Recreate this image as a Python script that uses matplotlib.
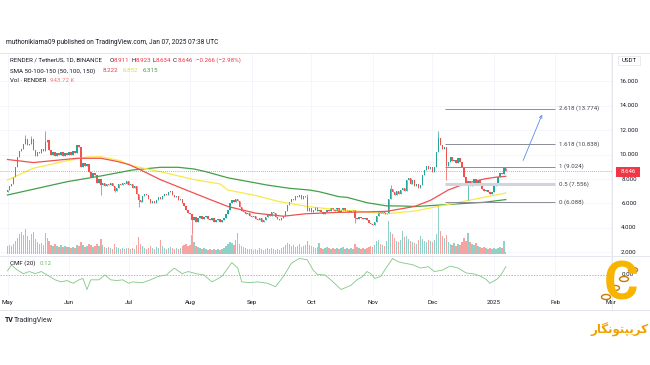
import matplotlib
matplotlib.use('Agg')
import matplotlib.pyplot as plt
from matplotlib.patches import Rectangle, Ellipse
from matplotlib.lines import Line2D
import numpy as np

plt.rcParams['font.family'] = ['Roboto', 'DejaVu Sans']

# RENDER/USDT daily closes, d = days since 1 May 2024
close_may = [7.1, 7.4, 7.6, 8.2, 9.0, 9.8, 10.3, 10.5, 10.9, 11.3,
             10.8, 10.9, 11.3, 10.4, 9.9, 10.2, 10.1, 10.5, 10.3, 11.0,
             11.2, 10.4, 10.0, 10.2, 9.9, 10.1, 10.0, 10.2, 9.9, 10.1,
             10.0]
close_jun = [10.2, 10.0, 10.3, 10.1, 10.8, 10.6, 9.0, 9.3, 9.1, 9.2,
             8.6, 8.2, 8.5, 8.3, 7.7, 8.0, 7.5, 7.7, 7.4, 7.6,
             7.5, 7.7, 7.4, 7.0, 7.3, 7.6, 7.5, 7.7, 7.6, 7.8]
close_jul = [7.5, 7.6, 7.3, 7.4, 6.8, 6.3, 6.1, 6.6, 6.8, 6.7,
             6.4, 6.0, 6.2, 6.0, 6.3, 6.5, 6.4, 6.6, 6.8, 6.7,
             6.9, 7.0, 6.7, 6.5, 6.6, 6.3, 6.4, 6.0, 5.8, 5.5,
             5.2]
close_aug = [5.1, 4.6, 4.9, 4.5, 4.8, 5.0, 4.7, 4.9, 5.0, 4.7,
             4.6, 4.8, 4.5, 4.6, 4.7, 4.5, 4.6, 4.8, 5.1, 5.5,
             6.0, 6.3, 6.1, 6.4, 6.2, 5.7, 5.4, 5.3, 5.1, 5.2,
             5.0]
close_sep = [4.9, 5.0, 4.7, 4.6, 4.8, 4.5, 4.6, 4.9, 5.1, 5.0,
             5.3, 5.2, 4.9, 4.7, 4.6, 4.8, 5.0, 5.4, 5.9, 6.1,
             6.4, 6.3, 6.6, 6.5, 6.7, 6.4, 6.6, 6.5, 5.4, 5.6]
close_oct = [5.3, 5.5, 5.7, 5.4, 5.5, 5.3, 5.1, 5.3, 5.5, 5.4,
             5.6, 5.5, 5.4, 5.6, 5.3, 5.5, 5.6, 5.4, 5.5, 5.3,
             5.4, 5.5, 4.8, 4.7, 4.9, 4.8, 4.7, 4.8, 4.6, 4.4,
             4.3]
close_nov = [4.2, 4.5, 5.0, 5.3, 5.2, 5.3, 5.1, 5.2, 6.4, 7.2,
             6.9, 6.7, 7.0, 6.8, 7.1, 7.3, 7.0, 7.9, 8.1, 7.6,
             7.9, 7.4, 7.6, 7.3, 7.5, 8.3, 8.7, 9.1, 8.8, 9.0]
close_dec = [8.6, 9.0, 10.2, 11.4, 10.8, 10.5, 10.6, 9.1, 9.4, 9.8,
             9.5, 9.6, 9.3, 9.7, 9.4, 9.0, 8.2, 7.6, 7.8, 7.4,
             7.7, 8.0, 7.6, 7.9, 7.6, 7.2, 7.0, 7.1, 6.9, 6.8,
             6.9]
close_jan = [7.4, 7.7, 8.2, 8.5, 8.4, 8.911, 8.646]
first_open = 6.9

wick_high = {9: 11.6, 12: 11.5, 19: 11.9, 151: 6.8, 193: 7.5, 217: 11.9, 250: 8.923}
wick_low = {47: 6.7, 54: 6.9, 66: 5.7, 93: 3.5, 175: 4.4, 221: 7.9, 232: 6.3, 251: 8.634}

# volume, millions
vol_may = [4, 4.5, 4, 5, 6.5, 8, 10, 11, 9.5, 12.5, 9, 7, 10, 11, 7.5, 6, 5, 5.5, 4.5, 10.5,
           8, 6.5, 4.5, 4, 5, 4, 3.5, 4.5, 3.5, 4, 3.5]
vol_jun = [3.5, 3, 3.5, 3, 4.5, 4, 6, 4.5, 3.5, 4, 5, 4.5, 3.5, 4, 5, 4, 7.5, 4.5, 3.5, 3,
           3.5, 3, 2.5, 5, 3.5, 3, 2.5, 3, 2.5, 3]
vol_jul = [3, 2.5, 3, 2.5, 4.5, 8.5, 5, 4, 3, 2.5, 3, 4, 3, 2.5, 3.5, 3, 7, 4, 3, 2.5,
           3, 3.5, 3, 2.5, 3, 2.5, 3, 4, 4.5, 5, 4]
vol_aug = [4.5, 9.5, 6, 4, 3.5, 3, 2.5, 3, 2.5, 2, 2.5, 2, 2.5, 2, 2.5, 2, 2.5, 3, 4, 5,
           6, 5.5, 4.5, 7, 10.5, 5, 4, 3.5, 3, 2.5, 2.5]
vol_sep = [2.5, 2, 2.5, 2, 3, 2.5, 2, 2.5, 3, 2.5, 3, 2.5, 2, 2.5, 2, 3, 3.5, 4.5, 5.5, 5,
           4, 4.5, 3.5, 4, 5, 3.5, 4, 4.5, 6.5, 4.5]
vol_oct = [4, 3.5, 3, 3.5, 5.5, 3, 2.5, 3, 3.5, 3, 2.5, 3, 2.5, 3, 2.5, 3, 3.5, 2.5, 3, 2.5,
           3, 2.5, 5, 3.5, 3, 2.5, 3, 2.5, 3, 3.5, 4]
vol_nov = [3.5, 4.5, 6.5, 7, 5, 4.5, 4, 6.5, 16.5, 11, 10, 8, 6.5, 6, 7, 11.5, 8.5, 9, 7.5, 6.5,
           6, 5.5, 5, 7, 9, 7.5, 6.5, 6, 7, 6.5]
vol_dec = [6, 7, 10, 24.5, 11.5, 9, 8, 9.5, 6, 5, 4.5, 5.5, 4, 5, 4.5, 6, 8, 6.5, 10.5, 6,
           5, 4.5, 5.5, 4, 3.5, 3, 3.5, 3, 2.5, 3, 2.5]
vol_jan = [3, 2.5, 3, 3.5, 3, 6.5, 0.94372]

# SMA 50 / 100 / 150 (day, value)
sma50_d = [0, 13, 35, 47, 55, 61, 67, 77, 90, 100, 111, 125, 139, 150, 167, 180, 191, 198, 205, 213, 222, 231, 240, 246, 251]
sma50_v = [9.6, 9.35, 9.7, 9.7, 9.45, 9.2, 8.75, 7.95, 7.1, 6.45, 5.75, 5.2, 4.95, 5.15, 5.27, 5.3, 5.35, 5.55, 5.75, 6.25, 7.1, 7.65, 8.0, 8.15, 8.222]
sma100_d = [0, 13, 30, 40, 47, 57, 61, 77, 94, 107, 111, 125, 137, 142, 152, 167, 176, 191, 206, 223, 240, 251]
sma100_v = [7.92, 8.88, 9.5, 9.8, 9.83, 9.5, 9.15, 8.6, 7.95, 7.6, 7.1, 6.65, 6.14, 6.0, 5.73, 5.46, 5.38, 5.15, 5.4, 5.95, 6.5, 6.852]
sma150_d = [0, 30, 47, 63, 77, 86, 94, 100, 111, 126, 131, 142, 152, 157, 167, 171, 181, 191, 198, 206, 218, 223, 240, 251]
sma150_v = [6.69, 7.78, 8.25, 8.74, 8.96, 8.96, 8.82, 8.6, 8.1, 7.65, 7.5, 7.24, 7.1, 6.96, 6.55, 6.5, 6.06, 5.8, 5.79, 5.75, 5.87, 5.93, 6.09, 6.315]

# CMF(20)
cmf_d = [0, 2, 5, 8, 11, 14, 17, 20, 24, 27, 30, 33, 36, 38, 40, 42, 46, 49, 52, 55, 58, 61, 63, 68,
         72, 76, 80, 84, 88, 91, 95, 99, 103, 108, 111, 113, 116, 118, 122, 126, 131, 135, 139, 143,
         147, 151, 154, 156, 160, 164, 168, 173, 176, 179, 181, 183, 185, 188, 190, 194, 197, 200,
         204, 208, 212, 215, 219, 223, 227, 231, 235, 238, 241, 243, 246, 247, 249, 251]
cmf_v = [0.06, 0.145, 0.07, 0.02, 0.05, 0.02, 0.05, 0.0, -0.07, -0.10, -0.08, -0.12, -0.07, -0.05, -0.21,
         -0.07, -0.07, 0.0, -0.07, -0.08, -0.07, -0.12, -0.10, -0.11, -0.07, -0.02, 0.0, 0.10, 0.02, 0.05,
         0.02, 0.0, -0.10, -0.02, 0.10, 0.18, 0.10, -0.10, -0.11, -0.10, -0.12, -0.17, -0.02, 0.17, 0.24,
         0.22, 0.07, 0.01, 0.0, -0.10, -0.21, -0.15, -0.07, -0.02, 0.05, 0.02, -0.05, -0.02, 0.07, 0.24,
         0.19, 0.17, 0.15, 0.10, 0.12, 0.05, 0.07, 0.13, 0.10, 0.03, 0.015, -0.015, -0.06, -0.12, -0.07,
         -0.05, 0.02, 0.12]

fib_ratio = ['2.618', '1.618', '1', '0.5', '0']
fib_price = [13.774, 10.838, 9.024, 7.556, 6.088]
fib_span = [220.4, 275.8]
arrow_start = (259.2, 9.31)
arrow_end = (269.8, 13.49)

month_days = [0, 31, 61, 92, 123, 153, 184, 214, 245, 276, 304]
month_labels = ['May', 'Jun', 'Jul', 'Aug', 'Sep', 'Oct', 'Nov', 'Dec', '2025', 'Feb', 'Mar']
price_ticks = [2, 4, 6, 8, 10, 12, 14, 16]

closes = close_may + close_jun + close_jul + close_aug + close_sep + close_oct + close_nov + close_dec + close_jan
vols = vol_may + vol_jun + vol_jul + vol_aug + vol_sep + vol_oct + vol_nov + vol_dec + vol_jan
closes = np.array(closes)
opens = np.concatenate([[first_open], closes[:-1]])
days = np.arange(len(closes))
highs = np.maximum(opens, closes)
lows = np.minimum(opens, closes)
for k, v in wick_high.items():
    highs[k] = v
for k, v in wick_low.items():
    lows[k] = v

UP, DN = '#26a69a', '#ef5350'
up = closes >= opens
cols = np.where(up, UP, DN)

W, H = 650, 365
def box(x0, y0, x1, y1):
    return [x0 / W, 1 - y1 / H, (x1 - x0) / W, (y1 - y0) / H]

def ftext(x, y, s, **kw):
    kw.setdefault('va', 'center')
    kw.setdefault('fontsize', 4.4)
    kw.setdefault('color', '#131722')
    return fig.text(x / W, 1 - y / H, s, **kw)

def fline(x0, y0, x1, y1, color='#e0e3eb', lw=0.6):
    fig.add_artist(Line2D([x0 / W, x1 / W], [1 - y0 / H, 1 - y1 / H], color=color, lw=lw,
                          transform=fig.transFigure))

fig = plt.figure(figsize=(6.5, 3.65), dpi=100)
fig.patch.set_facecolor('white')

XL = (-3.78, 304.5)

# volume (behind)
axv = fig.add_axes(box(0, 53, 612, 256))
axv.set_xlim(XL)
axv.set_ylim(-1, 101)
for p in price_ticks:
    y = (p - 1.69) / (18.33 - 1.69) * 102 - 1
    axv.axhline(y, color='#f0f3fa', lw=0.5, zorder=0)
for m in month_days:
    axv.axvline(m, color='#f0f3fa', lw=0.5, zorder=0)
vcols = np.where(up, '#8fd0c9', '#f6a3a1')
axv.bar(days, vols, width=0.7, color=vcols, lw=0)
axv.axis('off')

# price
ax = fig.add_axes(box(0, 53, 612, 256))
ax.patch.set_alpha(0)
ax.set_xlim(XL)
ax.set_ylim(1.69, 18.33)
ax.axis('off')
ax.plot(sma150_d, sma150_v, color='#43a047', lw=0.9)
ax.plot(sma100_d, sma100_v, color='#f7e94a', lw=0.9)
ax.plot(sma50_d, sma50_v, color='#f05050', lw=0.9)
ax.vlines(days, lows, highs, colors=cols, lw=0.5)
ax.bar(days, np.maximum(np.abs(closes - opens), 0.04), bottom=np.minimum(opens, closes),
       width=0.7, color=cols, lw=0)
ax.axhline(closes[-1], color='#f23645', lw=0.5, ls=(0, (1, 2)))

for r, p in zip(fib_ratio, fib_price):
    if r == '0.5':
        ax.hlines(p, fib_span[0], fib_span[1], color='#d1d4dc', lw=2.2)
    else:
        ax.hlines(p, fib_span[0], fib_span[1], color='#8a8d96', lw=0.7)
    ax.text(fib_span[1] + 1.8, p, f'{r} ({p:.3f})', fontsize=4.4, color='#434651', va='center')
ax.annotate('', xy=arrow_end, xytext=arrow_start,
            arrowprops=dict(arrowstyle='->', color='#5b8def', lw=0.6, mutation_scale=5))

# CMF pane
axc = fig.add_axes(box(0, 256, 612, 296))
axc.set_xlim(XL)
axc.set_ylim(-0.304, 0.275)
for m in month_days:
    axc.axvline(m, color='#f0f3fa', lw=0.5, zorder=0)
axc.axhline(0, color='#9598a1', lw=0.5, ls=(0, (2, 2)))
axc.plot(cmf_d, cmf_v, color='#81c784', lw=0.6)
for s in axc.spines.values():
    s.set_visible(False)
axc.set_yticks([])
axc.set_xticks(month_days)
axc.set_xticklabels(month_labels)
axc.tick_params(axis='x', length=0, pad=3, labelsize=4.4, labelcolor='#131722')

# frame lines
fline(0, 53, 650, 53)
fline(0, 255.5, 650, 255.5)
fline(612, 53, 612, 310)
fline(0, 310, 650, 310)

# price scale
for p in price_ticks:
    ftext(629, 276.6 - 12.2 * p, f'{p:.3f}', ha='center')
fig.add_artist(Rectangle((616 / W, 1 - 176.5 / H), 24 / W, 9.5 / H, transform=fig.transFigure,
                         facecolor='#f23645', edgecolor='none'))
ftext(628, 171.6, f'{closes[-1]:.3f}', ha='center', color='white')
fig.add_artist(Rectangle((618 / W, 1 - 65 / H), 22 / W, 9.5 / H, transform=fig.transFigure,
                         facecolor='white', edgecolor='#e0e3eb', lw=0.5))
ftext(629, 60.3, 'USDT', ha='center')
ftext(622, 275, '0.00')

# header texts
ftext(6, 43, 'muthonikiama09 published on TradingView.com, Jan 07, 2025 07:38 UTC', fontsize=4.7)
red = '#f23645'
ftext(10, 60, 'RENDER / TetherUS, 1D, BINANCE')
ftext(110, 60, 'O'); ftext(114, 60, '8.911', color=red)
ftext(131, 60, 'H'); ftext(135.5, 60, '8.923', color=red)
ftext(152.5, 60, 'L'); ftext(156, 60, '8.634', color=red)
ftext(173, 60, 'C'); ftext(177.5, 60, '8.646', color=red)
ftext(196, 60, '\u22120.266 (\u22122.98%)', color=red)
ftext(10, 71, 'SMA 50-100-150 (50, 100, 150)')
ftext(102.5, 71, '8.222', color=red)
ftext(122.5, 71, '6.852', color='#e8d630')
ftext(142.5, 71, '6.315', color='#43a047')
ftext(10, 81, 'Vol \u00b7 RENDER')
ftext(50.5, 81, '943.72 K', color='#f7787a')
ftext(10, 263.5, 'CMF (20)')
ftext(39.5, 263.5, '0.12', color='#66bb6a')

# footer
ftext(5, 320, 'TV', fontsize=5, fontweight='bold')
ftext(14, 320, 'TradingView', fontsize=5, color='#2a2e39')

# watermark logo: orange C with a chain across it
ftext(621, 285, 'C', fontsize=38, fontweight='bold', color='#f7b400', ha='center')
for cx, cy in [(606, 297), (615, 288), (624, 279), (633, 270)]:
    fig.add_artist(Ellipse((cx / W, 1 - cy / H), 9 / W, 5 / H, angle=40, transform=fig.transFigure,
                           facecolor='none', edgecolor='#c97a00', lw=1.0))
ftext(619, 330, '\ufead\ufe8e\ufb95\ufee7\ufeee\ufe98\ufb59\ufbfe\ufeae\ufb90', fontsize=8.5,
      fontweight='bold', color='#f0a000', ha='center', family=['DejaVu Sans'])

fig.savefig('out.png', dpi=100)
